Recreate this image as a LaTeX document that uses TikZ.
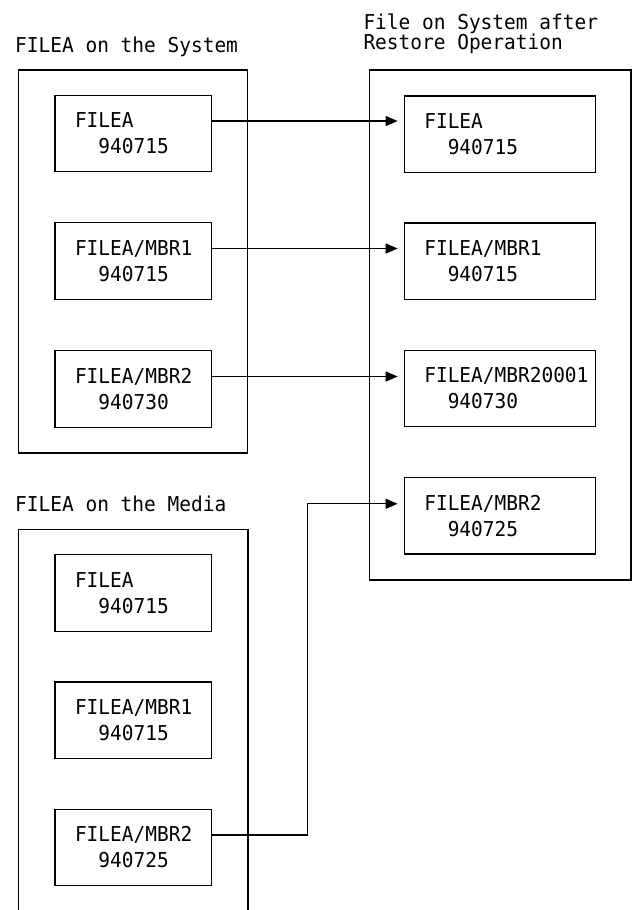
\documentclass[tikz,border=0pt]{standalone}
\usepackage{fontspec}
\newfontfamily\ibmfont[FakeStretch=0.95]{DejaVu Sans Mono}
\usetikzlibrary{arrows.meta}
\begin{document}
\begin{tikzpicture}[x=1pt,y=-1pt,
  frame/.style={draw=black,line width=1.3pt},
  filebox/.style={draw=black,line width=1.3pt,rectangle,inner xsep=20pt,inner ysep=0pt,
    minimum height=76.5pt,align=left,font=\ibmfont\fontsize{20.5}{26}\selectfont},
  leftbox/.style={filebox,text width=116.7pt},
  rightbox/.style={filebox,text width=151.4pt},
  title/.style={inner sep=0pt,align=left,font=\ibmfont\fontsize{20.5}{20}\selectfont},
  conn/.style={draw=black,line width=1.2pt,-{Triangle[length=12pt,width=10pt]},shorten >=6pt},
  plain/.style={draw=black,line width=1.2pt}]
\useasboundingbox (0,0) rectangle (633,910);
% titles
\node[title,anchor=base west] (t1) at (15,52.3) {FILEA on the System};
\node[title,anchor=north west] (t2) at (363.3,13.8) {File on System after\\Restore Operation};
\node[title,anchor=base west] (t3) at (15,511.7) {FILEA on the Media};
% outer frames
\draw[frame] (18.5,70) rectangle (247.7,453);
\draw[frame] (369.3,70) rectangle (631,580);
\draw[frame] (18.3,911) -- (18.3,529.3) -- (248,529.3) -- (248,911);
% system boxes
\node[leftbox] (a1) at (133.35,133.5) {FILEA\\\phantom{00}940715};
\node[leftbox] (a2) at (133.35,261) {FILEA/MBR1\\\phantom{00}940715};
\node[leftbox] (a3) at (133.35,389) {FILEA/MBR2\\\phantom{00}940730};
% restored boxes
\node[rightbox] (b1) at (500,134.3) {FILEA\\\phantom{00}940715};
\node[rightbox] (b2) at (500,261.3) {FILEA/MBR1\\\phantom{00}940715};
\node[rightbox] (b3) at (500,388.5) {FILEA/MBR20001\\\phantom{00}940730};
\node[rightbox] (b4) at (500,515.8) {FILEA/MBR2\\\phantom{00}940725};
% media boxes
\node[leftbox] (m1) at (133.35,593) {FILEA\\\phantom{00}940715};
\node[leftbox] (m2) at (133.35,720.3) {FILEA/MBR1\\\phantom{00}940715};
\node[leftbox] (m3) at (133.35,847.5) {FILEA/MBR2\\\phantom{00}940725};
% connectors
\coordinate (p1) at ([yshift=12.5pt]a1.east);
\coordinate (p2) at ([yshift=12.5pt]a2.east);
\coordinate (p3) at ([yshift=12.5pt]a3.east);
\draw[conn] (p1) -- (p1 -| b1.west);
\draw[conn] (p2) -- (p2 -| b2.west);
\draw[conn] (p3) -- (p3 -| b3.west);
\coordinate (p4) at ([yshift=12.5pt]m3.east);
\coordinate (q4) at ([yshift=12pt]b4.west);
\coordinate (bend) at (307.7,0);
\draw[conn] (p4) -- (p4 -| bend) -- (q4 -| bend) -- (q4);
\end{tikzpicture}
\end{document}
